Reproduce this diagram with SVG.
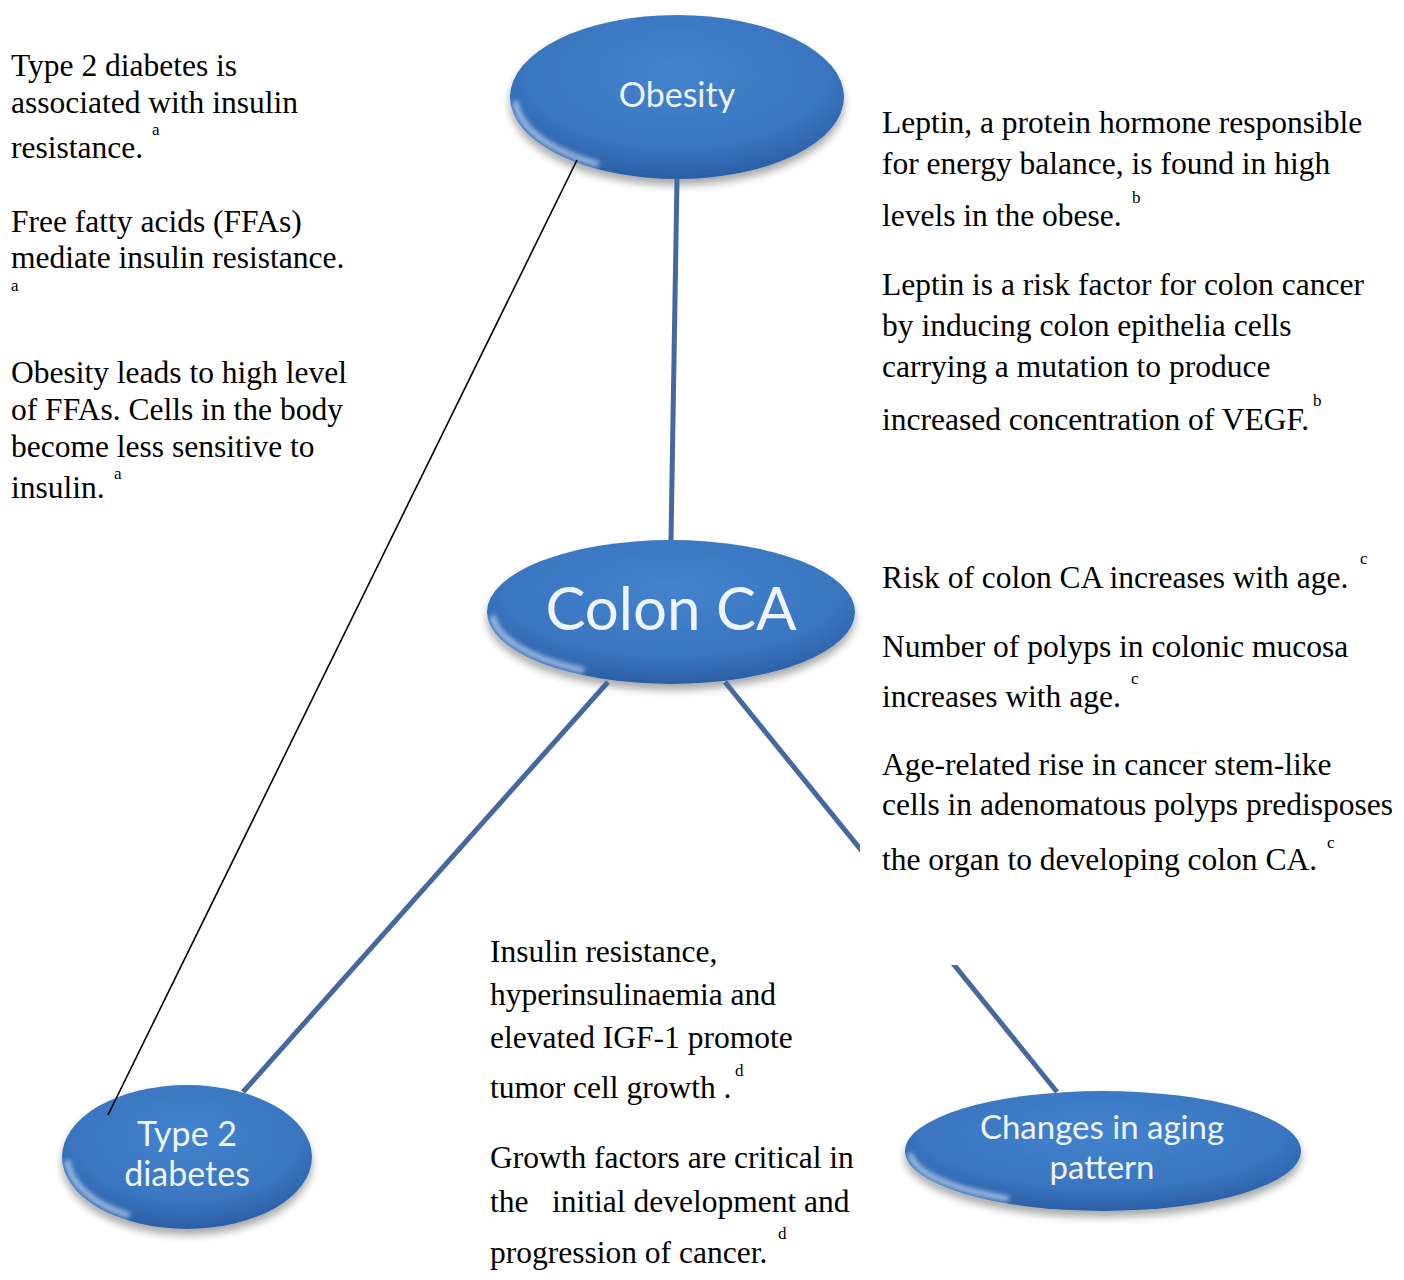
<svg xmlns="http://www.w3.org/2000/svg" width="1404" height="1280" viewBox="0 0 1404 1280">
<defs>
<style>
.t{font-family:"Liberation Serif","Times New Roman",serif;font-size:31.5px;fill:#000}
.s{font-family:"Liberation Serif","Times New Roman",serif;font-size:17px;fill:#000}
.n{font-family:Lato,"Open Sans",sans-serif;fill:#eef4fb;text-anchor:middle}
.bl{stroke:#4568a0;stroke-width:5;fill:none}
.hl{fill:none;stroke:#cfe2fa;stroke-width:6;stroke-linecap:round;opacity:.7}
.el{fill:url(#g);filter:url(#sh)}
</style>
<radialGradient id="g" cx="0.5" cy="0.35" r="0.65">
<stop offset="0" stop-color="#4383cd"/>
<stop offset="0.7" stop-color="#3a75c0"/>
<stop offset="1" stop-color="#2b5fa6"/>
</radialGradient>
<filter id="sh" x="-10%" y="-10%" width="120%" height="135%">
<feGaussianBlur in="SourceAlpha" stdDeviation="4"/>
<feOffset dy="6" result="b"/>
<feComponentTransfer><feFuncA type="linear" slope="0.35"/></feComponentTransfer>
<feMerge><feMergeNode/><feMergeNode in="SourceGraphic"/></feMerge>
</filter>
<filter id="bh" x="-20%" y="-20%" width="140%" height="140%"><feGaussianBlur stdDeviation="2.5"/></filter>
<clipPath id="cut"><path clip-rule="evenodd" d="M0,0H1404V1280H0Z M860,0H1404V965H860Z"/></clipPath>
</defs>
<rect width="1404" height="1280" fill="#fff"/>

<g id="node-obesity">
<ellipse class="el" cx="677" cy="97" rx="167" ry="82"/>
<path class="hl" filter="url(#bh)" d="M515.6,103.7 A162,77 0 0 0 596,163.7"/>
<text class="n" x="677" y="107" font-size="34">Obesity</text>
</g>
<g id="node-colon">
<ellipse class="el" cx="671" cy="612" rx="184" ry="72"/>
<path class="hl" filter="url(#bh)" d="M492.7,617.8 A179,67 0 0 0 581.5,670"/>
<text class="n" x="671" y="630" font-size="60">Colon CA</text>
</g>
<g id="node-diabetes">
<ellipse class="el" cx="187" cy="1157" rx="125" ry="72"/>
<path class="hl" filter="url(#bh)" d="M67.5,1162.8 A120,67 0 0 0 127,1215"/>
<text class="n" x="187" y="1146" font-size="34">Type 2</text>
<text class="n" x="187" y="1186" font-size="34">diabetes</text>
</g>
<g id="node-aging">
<ellipse class="el" cx="1103" cy="1151" rx="198" ry="60"/>
<path class="hl" filter="url(#bh)" d="M910.7,1155.8 A193,55 0 0 0 1006.5,1198.6"/>
<text class="n" x="1102" y="1139" font-size="33">Changes in aging</text>
<text class="n" x="1102" y="1179" font-size="33">pattern</text>
</g>

<g id="connectors">
<line class="bl" x1="677" y1="179" x2="671" y2="540"/>
<line class="bl" x1="608" y1="682" x2="243" y2="1092"/>
<line class="bl" x1="725" y1="682" x2="1057" y2="1092" clip-path="url(#cut)"/>
<line x1="577" y1="160" x2="108" y2="1115" stroke="#000" stroke-width="1.6"/>
</g>

<g id="text-left">
<text class="t" x="11" y="76">Type 2 diabetes is</text>
<text class="t" x="11" y="113">associated with insulin</text>
<text class="s" x="152" y="135">a</text>
<text class="t" x="11" y="158">resistance.</text>
<text class="t" x="11" y="232">Free fatty acids (FFAs)</text>
<text class="t" x="11" y="268">mediate insulin resistance.</text>
<text class="s" x="11" y="291">a</text>
<text class="t" x="11" y="383">Obesity leads to high level</text>
<text class="t" x="11" y="420">of FFAs. Cells in the body</text>
<text class="t" x="11" y="457">become less sensitive to</text>
<text class="s" x="114" y="479">a</text>
<text class="t" x="11" y="498">insulin.</text>
</g>

<g id="text-obesity">
<text class="t" x="882" y="133">Leptin, a protein hormone responsible</text>
<text class="t" x="882" y="174">for energy balance, is found in high</text>
<text class="s" x="1132" y="203">b</text>
<text class="t" x="882" y="226">levels in the obese.</text>
<text class="t" x="882" y="295">Leptin is a risk factor for colon cancer</text>
<text class="t" x="882" y="336">by inducing colon epithelia cells</text>
<text class="t" x="882" y="377">carrying a mutation to produce</text>
<text class="s" x="1313" y="406">b</text>
<text class="t" x="882" y="430">increased concentration of VEGF.</text>
</g>

<g id="text-aging">
<text class="s" x="1360" y="564">c</text>
<text class="t" x="882" y="588">Risk of colon CA increases with age.</text>
<text class="t" x="882" y="657">Number of polyps in colonic mucosa</text>
<text class="s" x="1131" y="684">c</text>
<text class="t" x="882" y="707">increases with age.</text>
<text class="t" x="882" y="775">Age-related rise in cancer stem-like</text>
<text class="t" x="882" y="815">cells in adenomatous polyps predisposes</text>
<text class="s" x="1327" y="848">c</text>
<text class="t" x="882" y="870">the organ to developing colon CA.</text>
</g>

<g id="text-diabetes">
<text class="t" x="490" y="962">Insulin resistance,</text>
<text class="t" x="490" y="1005">hyperinsulinaemia and</text>
<text class="t" x="490" y="1048">elevated IGF-1 promote</text>
<text class="s" x="735" y="1076">d</text>
<text class="t" x="490" y="1098">tumor cell growth .</text>
<text class="t" x="490" y="1168">Growth factors are critical in</text>
<text class="t" x="490" y="1212" xml:space="preserve">the   initial development and</text>
<text class="s" x="778" y="1239">d</text>
<text class="t" x="490" y="1263">progression of cancer.</text>
</g>
</svg>
